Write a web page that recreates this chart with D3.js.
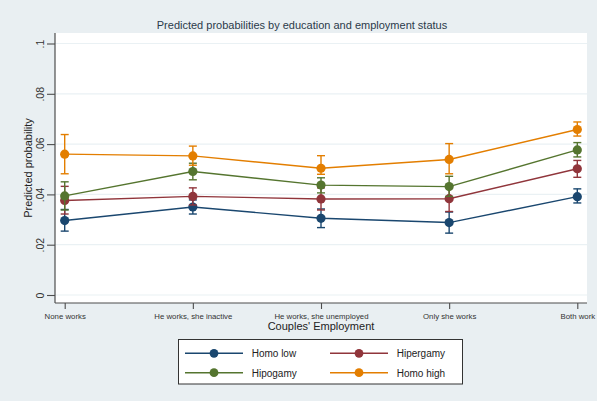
<!DOCTYPE html>
<html>
<head>
<meta charset="utf-8">
<script src="https://cdn.jsdelivr.net/npm/d3@7"></script>
<style>
  html, body { margin: 0; padding: 0; background: #e9eff2; }
  svg { display: block; font-family: "Liberation Sans", Arial, sans-serif; }
</style>
</head>
<body>
<svg id="chart" width="597" height="401"></svg>
<script>
// Couples' employment categories (x axis)
const categories = ["None works", "He works, she inactive", "He works, she unemployed", "Only she works", "Both work"];

// Series names and colours
const seriesNames = ["Homo low", "Hipergamy", "Hipogamy", "Homo high"];
const seriesColors = ["#1a476f", "#90353b", "#55752f", "#e37e00"];

// Predicted probabilities per series, one value per category
const homoLow   = [0.0296, 0.0350, 0.0305, 0.0288, 0.0391];
const hipergamy = [0.0376, 0.0392, 0.0382, 0.0383, 0.0502];
const hipogamy  = [0.0394, 0.0491, 0.0437, 0.0431, 0.0577];
const homoHigh  = [0.0560, 0.0553, 0.0504, 0.0539, 0.0658];

// 95% confidence bounds (lower, upper)
const homoLowLo   = [0.0254, 0.0322, 0.0268, 0.0246, 0.0366];
const homoLowHi   = [0.0340, 0.0378, 0.0342, 0.0330, 0.0422];
const hipergamyLo = [0.0322, 0.0358, 0.0338, 0.0332, 0.0468];
const hipergamyHi = [0.0432, 0.0426, 0.0426, 0.0434, 0.0535];
const hipogamyLo  = [0.0338, 0.0458, 0.0406, 0.0392, 0.0549];
const hipogamyHi  = [0.0450, 0.0524, 0.0466, 0.0472, 0.0606];
const homoHighLo  = [0.0482, 0.0516, 0.0480, 0.0482, 0.0632];
const homoHighHi  = [0.0638, 0.0592, 0.0554, 0.0602, 0.0688];

// Y axis ticks and labels
const yTicks = [0, 0.02, 0.04, 0.06, 0.08, 0.1];
const yTickLabels = ["0", ".02", ".04", ".06", ".08", ".1"];

const series = [
  { name: seriesNames[0], color: seriesColors[0], values: homoLow,   lo: homoLowLo,   hi: homoLowHi },
  { name: seriesNames[1], color: seriesColors[1], values: hipergamy, lo: hipergamyLo, hi: hipergamyHi },
  { name: seriesNames[2], color: seriesColors[2], values: hipogamy,  lo: hipogamyLo,  hi: hipogamyHi },
  { name: seriesNames[3], color: seriesColors[3], values: homoHigh,  lo: homoHighLo,  hi: homoHighHi }
];

const svg = d3.select("#chart");

// Plot region
const plot = { left: 55, top: 33, right: 587, bottom: 303 };

const x = d3.scalePoint()
  .domain(categories)
  .range([64.7, 577.3]);

const y = d3.scaleLinear()
  .domain([0, 0.1])
  .range([295, 43.5]);

// White plot background
svg.append("rect")
  .attr("x", plot.left).attr("y", plot.top)
  .attr("width", plot.right - plot.left)
  .attr("height", plot.bottom - plot.top)
  .attr("fill", "#ffffff");

// Horizontal grid lines
svg.append("g").selectAll("line")
  .data(yTicks)
  .join("line")
  .attr("x1", plot.left).attr("x2", plot.right)
  .attr("y1", d => y(d)).attr("y2", d => y(d))
  .attr("stroke", "#eaf1f4")
  .attr("stroke-width", 1.2);

// Y axis
const yAxis = svg.append("g")
  .attr("transform", `translate(${plot.left},0)`)
  .call(d3.axisLeft(y).tickValues(yTicks).tickSize(8).tickFormat((d, i) => yTickLabels[i]));
yAxis.select(".domain").attr("d", `M0,${plot.top}V${plot.bottom}`).attr("stroke", "#4d4d4d").attr("stroke-width", 1.2);
yAxis.selectAll(".tick line").attr("stroke", "#4d4d4d").attr("stroke-width", 1.1);
yAxis.selectAll(".tick text")
  .attr("x", null).attr("dy", null)
  .attr("transform", "translate(-11,0) rotate(-90)")
  .attr("text-anchor", "middle")
  .attr("fill", "#333")
  .style("font-size", "10.5px")
  .style("font-family", "'Liberation Sans', Arial, sans-serif");

// X axis
const xAxis = svg.append("g")
  .attr("transform", `translate(0,${plot.bottom})`)
  .call(d3.axisBottom(x).tickSize(6));
xAxis.select(".domain").attr("d", `M${plot.left},0H${plot.right}`).attr("stroke", "#4d4d4d").attr("stroke-width", 1.2);
xAxis.selectAll(".tick line").attr("stroke", "#4d4d4d").attr("stroke-width", 1.1);
xAxis.selectAll(".tick text")
  .attr("y", 16).attr("dy", null)
  .attr("fill", "#333")
  .style("font-size", "7.8px")
  .style("font-family", "'Liberation Sans Narrow', 'Liberation Sans', Arial, sans-serif");

// Series lines
const line = d3.line()
  .x((d, i) => x(categories[i]))
  .y(d => y(d));

const gSeries = svg.append("g").selectAll("g")
  .data(series)
  .join("g");

gSeries.append("path")
  .attr("d", d => line(d.values))
  .attr("fill", "none")
  .attr("stroke", d => d.color)
  .attr("stroke-width", 1.4);

// Confidence intervals with caps
gSeries.each(function(s) {
  const g = d3.select(this);
  const ci = categories.map((c, i) => ({ c, lo: s.lo[i], hi: s.hi[i] }));
  g.selectAll(".ci").data(ci).join("line")
    .attr("x1", d => x(d.c)).attr("x2", d => x(d.c))
    .attr("y1", d => y(d.lo)).attr("y2", d => y(d.hi))
    .attr("stroke", s.color).attr("stroke-width", 1.4);
  g.selectAll(".capHi").data(ci).join("line")
    .attr("x1", d => x(d.c) - 4).attr("x2", d => x(d.c) + 4)
    .attr("y1", d => y(d.hi)).attr("y2", d => y(d.hi))
    .attr("stroke", s.color).attr("stroke-width", 1.4);
  g.selectAll(".capLo").data(ci).join("line")
    .attr("x1", d => x(d.c) - 4).attr("x2", d => x(d.c) + 4)
    .attr("y1", d => y(d.lo)).attr("y2", d => y(d.lo))
    .attr("stroke", s.color).attr("stroke-width", 1.4);
  g.selectAll("circle").data(s.values).join("circle")
    .attr("cx", (d, i) => x(categories[i]))
    .attr("cy", d => y(d))
    .attr("r", 4.6)
    .attr("fill", s.color);
});

// Title
svg.append("text")
  .attr("x", 302).attr("y", 29)
  .attr("text-anchor", "middle")
  .attr("fill", "#2b3a4a")
  .style("font-size", "11px")
  .text("Predicted probabilities by education and employment status");

// Axis titles
svg.append("text")
  .attr("x", 321).attr("y", 330)
  .attr("text-anchor", "middle")
  .attr("fill", "#222")
  .style("font-size", "11px")
  .text("Couples' Employment");

svg.append("text")
  .attr("transform", "translate(32,168) rotate(-90)")
  .attr("text-anchor", "middle")
  .attr("fill", "#222")
  .style("font-size", "11px")
  .text("Predicted probability");

// Legend
const legend = svg.append("g");
legend.append("rect")
  .attr("x", 178.5).attr("y", 339.5)
  .attr("width", 284).attr("height", 44.5)
  .attr("fill", "#ffffff")
  .attr("stroke", "#333")
  .attr("stroke-width", 1);

const legendOrder = [0, 1, 2, 3];
const legendPos = [
  { lx: 185, ly: 353.3 },
  { lx: 330, ly: 353.3 },
  { lx: 185, ly: 372.7 },
  { lx: 330, ly: 372.7 }
];
// Row order: Homo low, Hipergamy / Hipogamy, Homo high
const legendItems = legendOrder.map((si, k) => ({ s: series[si], p: legendPos[k] }));
const li = legend.selectAll("g.item").data(legendItems).join("g").attr("class", "item");
li.append("line")
  .attr("x1", d => d.p.lx).attr("x2", d => d.p.lx + 58)
  .attr("y1", d => d.p.ly).attr("y2", d => d.p.ly)
  .attr("stroke", d => d.s.color).attr("stroke-width", 1.4);
li.append("circle")
  .attr("cx", d => d.p.lx + 29).attr("cy", d => d.p.ly)
  .attr("r", 4.4).attr("fill", d => d.s.color);
li.append("text")
  .attr("x", d => d.p.lx + 66.7).attr("y", d => d.p.ly + 4)
  .attr("fill", "#222")
  .style("font-size", "10px")
  .text(d => d.s.name);
</script>
</body>
</html>
